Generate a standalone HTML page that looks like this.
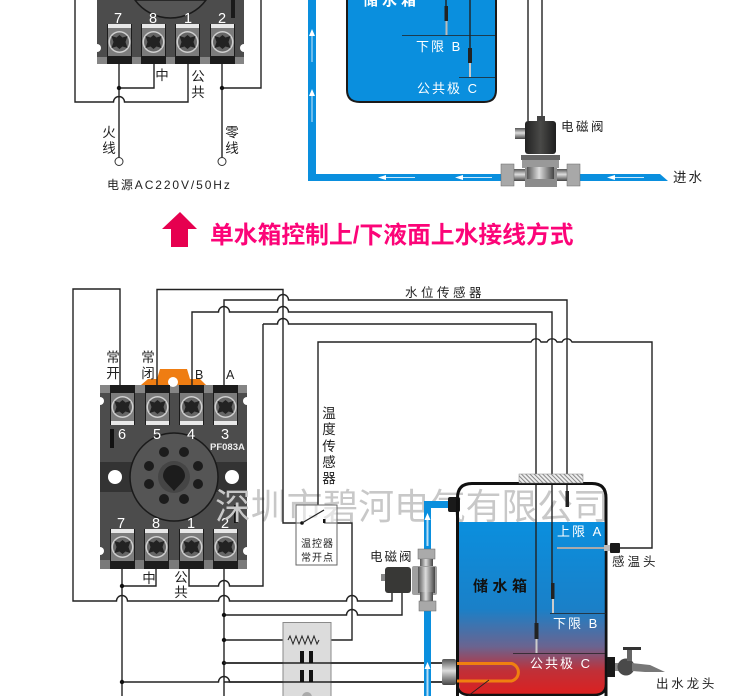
<!DOCTYPE html>
<html><head><meta charset="utf-8"><style>
html,body{margin:0;padding:0;background:#fff}
svg{display:block}
text{font-family:"Liberation Sans","Noto Sans CJK SC",sans-serif;fill:#222}
.w{fill:none;stroke:#222;stroke-width:1.4}
.t{font-size:13.5px}
.n{font-size:14.5px;fill:#fff;text-anchor:middle}
.c{text-anchor:middle}
.wt{fill:#fff;font-size:13px;letter-spacing:2px}
</style></head><body>
<svg width="750" height="696" viewBox="0 0 750 696" xmlns="http://www.w3.org/2000/svg">
<defs>
<linearGradient id="sg" x1="0" x2="1" y1="0" y2="0"><stop offset="0" stop-color="#555"/><stop offset=".45" stop-color="#ddd"/><stop offset="1" stop-color="#444"/></linearGradient>
<linearGradient id="sv" x1="0" x2="0" y1="0" y2="1"><stop offset="0" stop-color="#555"/><stop offset=".45" stop-color="#ddd"/><stop offset="1" stop-color="#444"/></linearGradient>
<linearGradient id="coil" x1="0" x2="1" y1="0" y2="0"><stop offset="0" stop-color="#222"/><stop offset=".5" stop-color="#4a4a48"/><stop offset="1" stop-color="#1e1e1e"/></linearGradient>
<linearGradient id="water" x1="0" x2="0" y1="0" y2="1"><stop offset="0" stop-color="#0a8fde"/><stop offset=".5" stop-color="#1a80c8"/><stop offset=".72" stop-color="#6a6490"/><stop offset=".86" stop-color="#c03038"/><stop offset="1" stop-color="#dc2020"/></linearGradient>
<pattern id="hatch" width="3" height="3" patternUnits="userSpaceOnUse" patternTransform="rotate(-45)"><rect width="3" height="3" fill="#eee"/><rect width="1" height="3" fill="#888"/></pattern>
<g id="term">
<rect x="0" y="0" width="25" height="40" fill="#1c1c1c"/>
<rect x="1" y="0" width="23" height="4" fill="#e8e8e8"/>
<rect x="1" y="4" width="23" height="28" fill="#7c7c7c"/>
<circle cx="12.5" cy="18" r="11" fill="#cfcfcf"/>
<circle cx="12.5" cy="18" r="9.5" fill="#666"/>
<path d="M4.500 12 L9.500 13.500 L12.500 11 L15.500 13.500 L20.500 12 L18.500 18 L20.500 24 L15.500 22.500 L12.500 25 L9.500 22.500 L4.500 24 L6.500 18Z" fill="#222"/>
</g>
</defs>
<rect width="750" height="696" fill="#fff"/>

<!-- ===== TOP RELAY ===== -->
<rect x="97" y="0" width="147" height="64" fill="#4c4c4c"/>
<rect x="97" y="57" width="147" height="7" fill="#858585"/>
<circle cx="97" cy="48" r="4" fill="#fff"/><circle cx="244" cy="48" r="4" fill="#fff"/>
<path d="M135 0 A44 44 0 0 0 206 0 Z" fill="#555" stroke="#1a1a1a" stroke-width="1.5"/>
<rect x="231" y="0" width="4" height="18" fill="#1a1a1a"/>
<use href="#term" x="107" y="24"/><use href="#term" x="141" y="24"/><use href="#term" x="175" y="24"/><use href="#term" x="210" y="24"/>
<text class="n" x="118" y="23">7</text><text class="n" x="153" y="23">8</text><text class="n" x="188" y="23">1</text><text class="n" x="222" y="23">2</text>
<path class="w" d="M119 64V158M119 88H154V64M188 64V102H124.500A5.500 5.500 0 0 0 113.500 102H75V0M222 64V158M222 88H261V0"/>
<circle cx="119" cy="88" r="2.200" fill="#111"/><circle cx="222" cy="88" r="2.200" fill="#111"/>
<circle cx="119" cy="161.500" r="4" fill="#fff" stroke="#333"/><circle cx="222" cy="161.500" r="4" fill="#fff" stroke="#333"/>
<text class="t c" x="162" y="80">中</text>
<text class="t c" x="198" y="81">公</text><text class="t c" x="198" y="97">共</text>
<text class="t c" x="109" y="137">火</text><text class="t c" x="109" y="153">线</text>
<text class="t c" x="232" y="137">零</text><text class="t c" x="232" y="153">线</text>
<text x="107" y="189" style="font-size:12px;letter-spacing:1.900px">电源AC220V/50Hz</text>

<!-- ===== TOP TANK ===== -->
<path d="M308 0H316V174H660L668 181H308Z" fill="#0a8fde"/>
<g fill="#fff">
<path d="M312 29l-3 7h6zM312 89l-3 7h6z"/><rect x="311.500" y="36" width="1" height="26" fill="#cfe8fa"/><rect x="311.500" y="96" width="1" height="26" fill="#cfe8fa"/>
<path d="M378 177.500l8-2.500v5zM455 177.500l8-2.500v5zM607 177.500l8-2.500v5z"/>
<rect x="386" y="177" width="29" height="1" fill="#cfe8fa"/><rect x="463" y="177" width="29" height="1" fill="#cfe8fa"/><rect x="615" y="177" width="29" height="1" fill="#cfe8fa"/>
</g>
<path d="M347 -5V90Q347 102 360 102H484Q496 102 496 90V-5Z" fill="#0a8fde" stroke="#1a1a1a" stroke-width="2"/>
<text x="363" y="5" style="font-size:15px;font-weight:bold;letter-spacing:4px;fill:#fff">储水箱</text>
<path class="w" d="M446 0V6" /><rect x="444.500" y="6" width="3.500" height="15" fill="#222"/><rect x="445.500" y="21" width="2" height="14" fill="#bbb"/>
<path d="M402 35.500H495M459 77.500H495" stroke="#222" stroke-width=".7" fill="none"/>
<path class="w" d="M470 0V48"/><rect x="468" y="48" width="4" height="15" fill="#222"/><rect x="469" y="63" width="2" height="14" fill="#ccc"/>
<text class="wt" x="416" y="51">下限 B</text>
<text class="wt" x="417" y="93">公共极 C</text>
<path class="w" d="M528 0V121M542 0V117"/>
<!-- solenoid top -->
<rect x="515" y="128" width="11" height="11" fill="url(#sv)"/>
<rect x="537" y="116" width="8" height="5" fill="#444"/>
<rect x="525" y="121" width="31" height="33" rx="3" fill="url(#coil)"/>
<rect x="521" y="155" width="39" height="5" fill="#666"/>
<rect x="522" y="160" width="37" height="8" fill="#999"/>
<rect x="525" y="168" width="32" height="19" fill="#8c8c8c"/>
<rect x="527" y="167" width="27" height="12" fill="url(#sg)"/>
<rect x="514" y="169" width="11" height="12" fill="url(#sv)"/><rect x="557" y="169" width="10" height="12" fill="url(#sv)"/>
<rect x="501" y="164" width="13" height="22" fill="#a8a8a8" stroke="#666" stroke-width=".5"/><rect x="567" y="164" width="13" height="22" fill="#a8a8a8" stroke="#666" stroke-width=".5"/>
<text x="561" y="131" style="font-size:12.500px;letter-spacing:2.500px">电磁阀</text>
<text x="673" y="182" style="font-size:13.500px;letter-spacing:2px">进水</text>

<!-- ===== TITLE ===== -->
<path d="M180 212L197 229H188V247H171V229H162Z" fill="#e6004f"/>
<text x="210" y="243" style="font-size:23.800px;font-weight:bold;fill:#fc0478">单水箱控制上/下液面上水接线方式</text>

<!-- ===== BOTTOM RELAY ===== -->
<rect x="100" y="385" width="147" height="184" fill="#4c4c4c"/>
<rect x="100" y="385" width="147" height="8" fill="#858585"/>
<rect x="100" y="560" width="147" height="9" fill="#7a7a7a"/>
<rect x="100" y="462" width="147" height="30" fill="#333"/>
<circle cx="100" cy="401" r="4" fill="#fff"/><circle cx="247" cy="401" r="4" fill="#fff"/>
<circle cx="100" cy="551" r="4" fill="#fff"/><circle cx="247" cy="551" r="4" fill="#fff"/>
<circle cx="115" cy="477" r="7" fill="#fff"/><circle cx="232" cy="477" r="7" fill="#fff"/>
<path d="M141 385L148 379H157L160 369H187L190 379H200L206 385Z" fill="#ef7d12"/>
<circle cx="173" cy="382" r="5" fill="#fff"/>
<circle cx="174" cy="477" r="44" fill="#555" stroke="#1a1a1a" stroke-width="1.500"/>
<circle cx="174" cy="477" r="16" fill="#454545"/>
<g fill="#1c1c1c">
<circle cx="164" cy="452" r="5"/><circle cx="184" cy="452" r="5"/><circle cx="149" cy="466" r="5"/><circle cx="198" cy="466" r="5"/><circle cx="149" cy="484" r="5"/><circle cx="198" cy="484" r="5"/><circle cx="164" cy="499" r="5"/><circle cx="184" cy="499" r="5"/>
<path d="M163 476A11 11 0 0 1 185 476C185 481 178 486 174 491C170 486 163 481 163 476Z"/>
</g>
<use href="#term" transform="translate(110,425) scale(1,-1)"/><use href="#term" transform="translate(145,425) scale(1,-1)"/><use href="#term" transform="translate(179,425) scale(1,-1)"/><use href="#term" transform="translate(213,425) scale(1,-1)"/>
<use href="#term" x="110" y="529"/><use href="#term" x="144" y="529"/><use href="#term" x="179" y="529"/><use href="#term" x="213" y="529"/>
<text class="n" x="122" y="439">6</text><text class="n" x="157" y="439">5</text><text class="n" x="191" y="439">4</text><text class="n" x="225" y="439">3</text>
<text x="210" y="450" style="font-size:9.500px;font-weight:bold;fill:#eee">PF083A</text>
<rect x="110" y="429" width="4" height="19" fill="#111"/>
<rect x="234" y="505" width="4" height="18" fill="#111"/>
<text class="n" x="121" y="528">7</text><text class="n" x="156" y="528">8</text><text class="n" x="191" y="528">1</text><text class="n" x="225" y="528">2</text>

<!-- watermark -->
<text x="215" y="519" style="font-size:35.800px;fill:#c8c8c8">深圳市碧河电气有限公司</text>

<!-- wires bottom -->
<g class="w">
<path d="M120 385V289H73V601H116.500A5.500 5.500 0 0 1 127.500 601H218.500A5.500 5.500 0 0 1 229.500 601H346.500A5.500 5.500 0 0 1 357.500 601H392V592"/>
<path d="M157 385V289.500H283V523H302"/>
<path d="M192 385V312H218.500A5.500 5.500 0 0 1 229.500 312H277.500A5.500 5.500 0 0 1 288.500 312H552V598"/>
<path d="M224 385V300H277.500A5.500 5.500 0 0 1 288.500 300H567V492"/>
<path d="M263 324H277.500A5.500 5.500 0 0 1 288.500 324H536V624M263 324V586H229.500A5.500 5.500 0 0 0 218.500 586H189V569"/>
<path d="M318 505V342H531A5.500 5.500 0 0 1 541 342H547A5.500 5.500 0 0 1 557 342H562A5.500 5.500 0 0 1 572 342H652V548H620"/>
<path d="M122 569V696M122 586H156V569M224 569V696"/>
<path d="M224 615H346.500A5.500 5.500 0 0 1 357.500 615H402V592"/>
<path d="M324 523H352V640H325M288 640H224"/>
<path d="M224 663H443M122 682H218.500A5.500 5.500 0 0 1 229.500 682H443"/>
</g>
<circle cx="122" cy="586" r="2.200" fill="#111"/><circle cx="224" cy="615" r="2.200" fill="#111"/><circle cx="224" cy="640" r="2.200" fill="#111"/><circle cx="224" cy="663" r="2.200" fill="#111"/><circle cx="122" cy="682" r="2.200" fill="#111"/>

<text class="t c" x="113" y="362">常</text><text class="t c" x="113" y="378">开</text>
<text class="t c" x="148" y="362">常</text><text class="t c" x="148" y="378">闭</text>
<text x="195" y="379" style="font-size:12.500px">B</text><text x="226" y="379" style="font-size:12.500px">A</text>
<text class="t c" x="149" y="583">中</text>
<text class="t c" x="181" y="582">公</text><text class="t c" x="181" y="597">共</text>
<text x="405" y="297" style="font-size:12.500px;letter-spacing:3.500px">水位传感器</text>
<g class="t c"><text x="329" y="418">温</text><text x="329" y="434">度</text><text x="329" y="451">传</text><text x="329" y="467">感</text><text x="329" y="483">器</text></g>

<!-- thermostat box -->
<rect x="296" y="505" width="41" height="60" fill="#fff" fill-opacity=".5" stroke="#666"/>
<circle cx="302" cy="523" r="1.800" fill="#111"/><path d="M302 523L324 510" stroke="#222" stroke-width="1.200"/><rect x="323" y="519" width="2.500" height="4" fill="#111"/>
<text x="301" y="547" style="font-size:10px;letter-spacing:1px">温控器</text>
<text x="301" y="561" style="font-size:10px;letter-spacing:1px">常开点</text>

<!-- contactor -->
<rect x="283" y="622.500" width="48" height="74" fill="#dcdcdc" stroke="#8a8a8a"/>
<path d="M288 640l2-4 3 8 3-8 3 8 3-8 3 8 3-8 3 8 3-8 3 8 2-4" fill="none" stroke="#222" stroke-width="1"/>
<path class="w" d="M224 663H443M224 682H443"/>
<g fill="#111"><rect x="300" y="651" width="4" height="12"/><rect x="309" y="651" width="4" height="12"/><rect x="300" y="670" width="4" height="12"/><rect x="309" y="670" width="4" height="12"/></g>
<circle cx="307" cy="697" r="5" fill="#aaa"/>

<!-- inlet pipe -->
<path d="M424 696V501H450V508H431V696Z" fill="#0a8fde"/>
<rect x="426.500" y="516" width="2" height="30" fill="#b8def5"/><path d="M427.500 513l-3 7h6z" fill="#fff"/>
<rect x="426.500" y="665" width="2" height="31" fill="#b8def5"/><path d="M427.500 662l-3 7h6z" fill="#fff"/>
<rect x="448" y="497" width="12" height="15" rx="2" fill="#1a1a1a"/>
<!-- valve -->
<rect x="418" y="549" width="17" height="10" fill="#aaa" stroke="#666" stroke-width=".5"/>
<rect x="420" y="559" width="13" height="8" fill="url(#sg)"/>
<rect x="412" y="566" width="25" height="29" rx="2" fill="#a0a0a0"/>
<rect x="418" y="567" width="17" height="26" fill="url(#sg)"/>
<rect x="420" y="592" width="13" height="9" fill="url(#sg)"/>
<rect x="419" y="601" width="17" height="10" fill="#a8a8a8" stroke="#666" stroke-width=".5"/>
<rect x="381" y="574" width="5" height="7" fill="#888"/>
<rect x="385" y="567" width="26" height="26" rx="3" fill="#383836"/>
<text x="370" y="561" style="font-size:12.500px;letter-spacing:2px">电磁阀</text>

<!-- tank -->
<path d="M457.500 696V498Q457.500 483.500 472 483.500H592Q606 483.500 606 498V696" fill="none" stroke="#111" stroke-width="3"/>
<path d="M459 522H605V684Q605 695 594 695H470Q459 695 459 684Z" fill="url(#water)"/>
<path d="M457.500 500V684Q457.500 695 470 695H594Q606 695 606 684V500" fill="none" stroke="#111" stroke-width="2.500"/>
<rect x="519" y="474" width="64" height="9" fill="url(#hatch)" stroke="#888" stroke-width=".5"/>
<rect x="565.500" y="491" width="3.500" height="16" fill="#222"/>
<text class="wt" x="557" y="536">上限 A</text>
<rect x="551" y="583" width="3.500" height="16" fill="#222"/><rect x="552" y="599" width="2" height="14" fill="#ccc"/>
<rect x="534.500" y="623" width="4" height="16" fill="#222"/><rect x="535.500" y="639" width="2" height="14" fill="#ccc"/>
<path d="M550 613.500H606M513 653.500H605" stroke="#222" stroke-width=".7"/>
<path class="w" d="M536 522V624M552 522V584"/>
<text class="wt" x="553" y="628">下限 B</text>
<text class="wt" x="530" y="668">公共极 C</text>
<text x="473" y="591" style="font-size:15px;font-weight:bold;letter-spacing:4.500px;fill:#111">储水箱</text>
<rect x="557" y="547" width="47" height="2" fill="#aaa"/>
<rect x="604" y="545" width="7" height="6" fill="#bbb"/><rect x="610" y="543" width="10" height="10" rx="1" fill="#1a1a1a"/>
<text x="612" y="566" style="font-size:12.500px;letter-spacing:3px">感温头</text>
<!-- heater -->
<path d="M457 663.500H511.500A9 9 0 0 1 511.500 681H457" fill="none" stroke="#f08010" stroke-width="3"/>
<rect x="442" y="659" width="14" height="26" rx="2" fill="url(#sv)"/>
<path d="M489 680L468 696" stroke="#222" stroke-width=".8"/>
<!-- faucet -->
<rect x="607" y="657" width="8" height="20" fill="#1a1a1a"/>
<rect x="615" y="663" width="6" height="8" fill="#888"/>
<circle cx="626" cy="667" r="8.500" fill="#4a4a4a"/>
<rect x="627" y="650" width="5" height="11" fill="#666"/>
<rect x="623" y="647" width="18" height="3" fill="#333"/>
<path d="M632 663L650 665L665 672H645L632 671Z" fill="#777"/>
<text x="656" y="688" style="font-size:12.500px;letter-spacing:2.800px">出水龙头</text>
</svg>
</body></html>
